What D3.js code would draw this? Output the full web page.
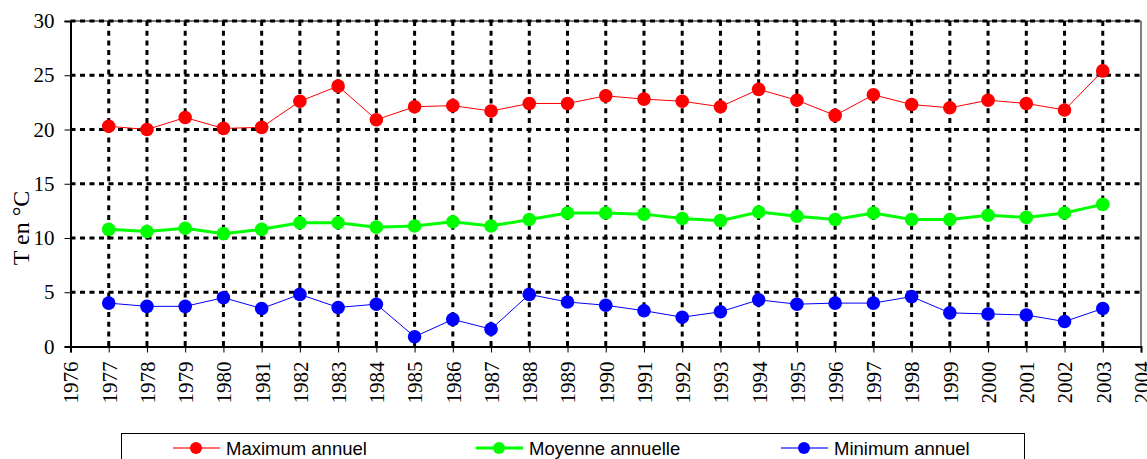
<!DOCTYPE html>
<html><head><meta charset="utf-8">
<script src="https://cdn.jsdelivr.net/npm/d3@7"></script>
<style>
body{margin:0;background:#fff;}
svg{display:block;}
</style></head>
<body>
<svg id="chart" width="1147" height="459"></svg>
<script>
const years = [1977,1978,1979,1980,1981,1982,1983,1984,1985,1986,1987,1988,1989,1990,1991,1992,1993,1994,1995,1996,1997,1998,1999,2000,2001,2002,2003];
const maxVals  = [20.3,20.0,21.1,20.1,20.2,22.6,24.0,20.9,22.1,22.2,21.7,22.4,22.4,23.1,22.8,22.6,22.1,23.7,22.7,21.3,23.2,22.3,22.0,22.7,22.4,21.8,25.4];
const meanVals = [10.8,10.6,10.9,10.4,10.8,11.4,11.4,11.0,11.1,11.5,11.1,11.7,12.3,12.3,12.2,11.8,11.6,12.4,12.0,11.7,12.3,11.7,11.7,12.1,11.9,12.3,13.1];
const minVals  = [4.0,3.7,3.7,4.5,3.5,4.8,3.6,3.9,0.9,2.5,1.6,4.8,4.1,3.8,3.3,2.7,3.2,4.3,3.9,4.0,4.0,4.6,3.1,3.0,2.9,2.3,3.5];
const xTickLabels = [1976,1977,1978,1979,1980,1981,1982,1983,1984,1985,1986,1987,1988,1989,1990,1991,1992,1993,1994,1995,1996,1997,1998,1999,2000,2001,2002,2003,2004];
const yTickLabels = [0,5,10,15,20,25,30];
const seriesNames = ["Maximum annuel","Moyenne annuelle","Minimum annuel"];
const seriesColors = ["#ff0000","#00ff00","#0000ff"];
const lineWidths = [1,3,1];

const svg = d3.select("#chart");
const L=70.5, R=1141, T=21, B=346.5;
const x = d3.scaleLinear().domain([1976,2004]).range([L,R]);
const y = d3.scaleLinear().domain([0,30]).range([B,T]);

// border top/right
svg.append("line").attr("x1",L).attr("x2",R).attr("y1",T).attr("y2",T).attr("stroke","#555").attr("stroke-width",1.5);
svg.append("line").attr("x1",R).attr("x2",R).attr("y1",T).attr("y2",B).attr("stroke","#555").attr("stroke-width",1.5);

// grid
const grid = svg.append("g");
grid.selectAll(".hg").data(yTickLabels.filter(d=>d>0)).join("line")
  .attr("x1",L).attr("x2",R).attr("y1",d=>y(d)).attr("y2",d=>y(d))
  .attr("stroke","#000").attr("stroke-width",3).attr("stroke-dasharray","5 4.5");
grid.selectAll(".vg").data(years).join("line")
  .attr("x1",d=>x(d)).attr("x2",d=>x(d)).attr("y1",T).attr("y2",B)
  .attr("stroke","#000").attr("stroke-width",3).attr("stroke-dasharray","5 4.7");

// axes
const yAxis = svg.append("g").attr("transform",`translate(${L},0)`)
  .attr("font-family","'Liberation Serif',serif")
  .call(d3.axisLeft(y).tickValues(yTickLabels).tickSize(6).tickPadding(10));
yAxis.attr("font-family","'Liberation Serif',serif");
yAxis.select(".domain").attr("stroke","#000").attr("stroke-width",2);
yAxis.selectAll("text").style("font-family","'Liberation Serif',serif").attr("font-size",21).attr("fill","#000");

const xAxis = svg.append("g").attr("transform",`translate(0,${B})`)
  .call(d3.axisBottom(x).tickValues(xTickLabels).tickFormat(d3.format("d")).tickSize(6));
xAxis.attr("font-family","'Liberation Serif',serif");
xAxis.select(".domain").attr("stroke","#000").attr("stroke-width",2);
xAxis.selectAll("text")
  .style("font-family","'Liberation Serif',serif").attr("font-size",21).attr("fill","#000")
  .attr("text-anchor","end").attr("transform","rotate(-90)")
  .attr("x",-15).attr("y",0).attr("dy","0.35em");

// y title
svg.append("text").attr("transform","translate(29,228) rotate(-90)")
  .attr("text-anchor","middle").style("font-family","'Liberation Serif',serif")
  .attr("font-size",24).attr("fill","#000").text("T en °C");

// series
const seriesData = [maxVals, meanVals, minVals];
seriesData.forEach((vals,i)=>{
  const pts = years.map((yr,j)=>[yr,vals[j]]);
  svg.append("path").datum(pts)
    .attr("d", d3.line().x(d=>x(d[0])).y(d=>y(d[1])))
    .attr("fill","none").attr("stroke",seriesColors[i]).attr("stroke-width",lineWidths[i]);
  svg.append("g").selectAll("circle").data(pts).join("circle")
    .attr("cx",d=>x(d[0])).attr("cy",d=>y(d[1])).attr("r",6.8)
    .attr("fill",seriesColors[i]);
});

// legend
svg.append("rect").attr("x",121.5).attr("y",433.5).attr("width",903).attr("height",40)
  .attr("fill","#fff").attr("stroke","#000").attr("stroke-width",1);
const legX = [196,499,804];
seriesNames.forEach((n,i)=>{
  const g = svg.append("g");
  g.append("line").attr("x1",legX[i]-23).attr("x2",legX[i]+24).attr("y1",448).attr("y2",448)
    .attr("stroke",seriesColors[i]).attr("stroke-width",lineWidths[i]===3?3:1.5).attr("opacity",lineWidths[i]===3?1:0.75);
  g.append("circle").attr("cx",legX[i]).attr("cy",448).attr("r",6).attr("fill",seriesColors[i]);
  g.append("text").attr("x",legX[i]+30).attr("y",454.5)
    .style("font-family","'Liberation Sans',Arial,sans-serif").attr("font-size",18.5).attr("fill","#000").text(n);
});
</script>
</body></html>
